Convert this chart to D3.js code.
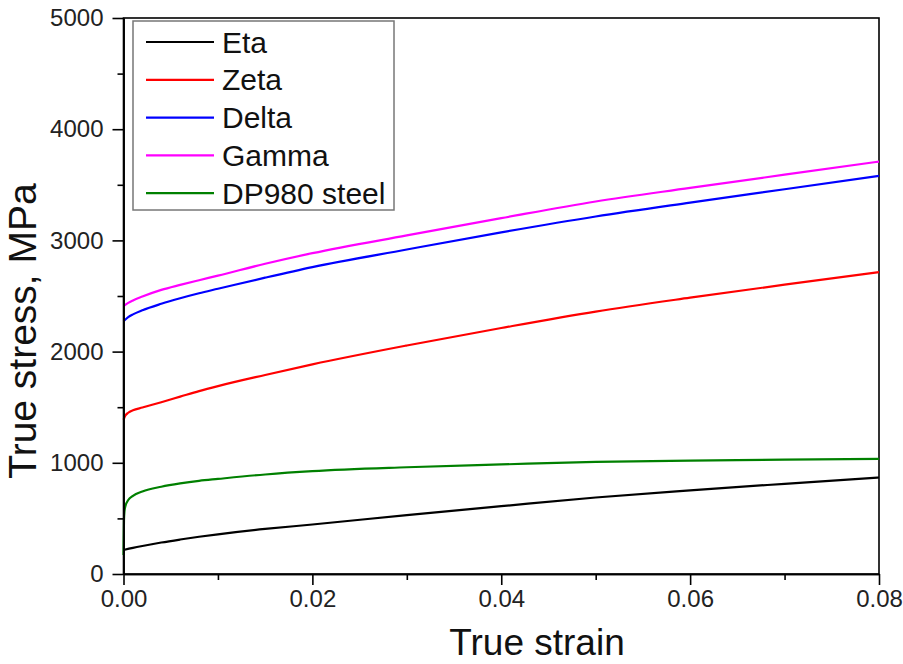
<!DOCTYPE html>
<html>
<head>
<meta charset="utf-8">
<script src="https://cdn.jsdelivr.net/npm/d3@7"></script>
<style>
  body { margin: 0; background: #fff; }
  svg { display: block; font-family: "Liberation Sans", Arial, sans-serif; }
</style>
</head>
<body>
<svg id="chart"></svg>
<script>
const width = 903;
const height = 664;

// strain values (x) and true stress (MPa) for each material
const etaStrain   = [0, 0.001, 0.002, 0.004, 0.006, 0.008, 0.01, 0.015, 0.02, 0.03, 0.04, 0.05, 0.06, 0.07, 0.08];
const etaStress   = [216, 235, 252, 283, 310, 335, 357, 405, 445, 530, 610, 688, 752, 811, 868];

const zetaStrain  = [0, 0.0002, 0.0005, 0.001, 0.002, 0.004, 0.006, 0.008, 0.01, 0.015, 0.02, 0.03, 0.04, 0.05, 0.06, 0.07, 0.08];
const zetaStress  = [1387, 1425, 1450, 1472, 1497, 1545, 1595, 1645, 1690, 1790, 1885, 2055, 2212, 2360, 2485, 2602, 2714];

const deltaStrain = [0, 0.0005, 0.001, 0.002, 0.004, 0.006, 0.008, 0.01, 0.015, 0.02, 0.03, 0.04, 0.05, 0.06, 0.07, 0.08];
const deltaStress = [2273, 2310, 2335, 2372, 2430, 2480, 2525, 2565, 2665, 2760, 2918, 3072, 3215, 3340, 3460, 3580];

const gammaStrain = [0, 0.0005, 0.001, 0.002, 0.004, 0.006, 0.008, 0.01, 0.015, 0.02, 0.03, 0.04, 0.05, 0.06, 0.07, 0.08];
const gammaStress = [2408, 2438, 2460, 2495, 2555, 2600, 2642, 2683, 2790, 2885, 3045, 3200, 3350, 3472, 3591, 3709];

const dpStrain    = [0, 0.00005, 0.0001, 0.0002, 0.0005, 0.001, 0.002, 0.004, 0.006, 0.008, 0.01, 0.015, 0.02, 0.03, 0.04, 0.05, 0.06, 0.07, 0.08];
const dpStress    = [171, 480, 560, 610, 665, 703, 742, 785, 815, 838, 855, 895, 925, 960, 985, 1008, 1020, 1029, 1036];

const seriesNames  = ["Eta", "Zeta", "Delta", "Gamma", "DP980 steel"];
const seriesColors = ["#000000", "#ff0000", "#0000ff", "#ff00ff", "#008000"];

const xTicks = [0, 0.02, 0.04, 0.06, 0.08];
const xMinor = [0.01, 0.03, 0.05, 0.07];
const yTicks = [0, 1000, 2000, 3000, 4000, 5000];
const yMinor = [500, 1500, 2500, 3500, 4500];

const series = [
  [etaStrain, etaStress],
  [zetaStrain, zetaStress],
  [deltaStrain, deltaStress],
  [gammaStrain, gammaStress],
  [dpStrain, dpStress]
].map(([xs, ys], i) => ({
  name: seriesNames[i],
  color: seriesColors[i],
  points: xs.map((x, j) => ({ x: x, y: ys[j] }))
}));

const margin = { left: 123.5, right: 24, top: 18, bottom: 90 };

const svg = d3.select("#chart").attr("width", width).attr("height", height);

const x = d3.scaleLinear().domain([0, 0.08]).range([margin.left, width - margin.right]);
const y = d3.scaleLinear().domain([0, 5000]).range([height - margin.bottom, margin.top]);

// plot frame
svg.append("rect")
  .attr("x", x(0)).attr("y", y(5000))
  .attr("width", x(0.08) - x(0)).attr("height", y(0) - y(5000))
  .attr("fill", "none").attr("stroke", "#000").attr("stroke-width", 1.6);

// curves
const line = d3.line().x(d => x(d.x)).y(d => y(d.y)).curve(d3.curveMonotoneX);

svg.append("g")
  .selectAll("path")
  .data(series)
  .enter().append("path")
    .attr("d", d => line(d.points))
    .attr("fill", "none")
    .attr("stroke", d => d.color)
    .attr("stroke-width", 2.2);

// axes
svg.append("g")
  .attr("transform", `translate(0,${y(0)})`)
  .call(d3.axisBottom(x).tickValues(xTicks).tickFormat(d3.format(".2f")).tickSize(11).tickSizeOuter(0).tickPadding(5));

svg.append("g")
  .attr("transform", `translate(0,${y(0)})`)
  .call(d3.axisBottom(x).tickValues(xMinor).tickFormat("").tickSize(6).tickSizeOuter(0));

svg.append("g")
  .attr("transform", `translate(${x(0)},0)`)
  .call(d3.axisLeft(y).tickValues(yTicks).tickFormat(d3.format("d")).tickSize(11).tickSizeOuter(0).tickPadding(9));

svg.append("g")
  .attr("transform", `translate(${x(0)},0)`)
  .call(d3.axisLeft(y).tickValues(yMinor).tickFormat("").tickSize(6).tickSizeOuter(0));

svg.selectAll(".domain").attr("stroke", "#000").attr("stroke-width", 1.6);
svg.selectAll(".tick line").attr("stroke", "#000").attr("stroke-width", 1.6);
svg.selectAll(".tick text")
  .attr("fill", "#222")
  .style("font-size", "24px")
  .style("font-family", "'Liberation Sans', Arial, sans-serif");

// axis titles
svg.append("text")
  .attr("x", 537).attr("y", 655)
  .attr("text-anchor", "middle")
  .style("font-size", "37px")
  .attr("fill", "#111")
  .text("True strain");

svg.append("text")
  .attr("transform", "translate(36,331) rotate(-90)")
  .attr("text-anchor", "middle")
  .style("font-size", "39px")
  .attr("fill", "#111")
  .text("True stress, MPa");

// legend
const legend = svg.append("g");
legend.append("rect")
  .attr("x", 133).attr("y", 21)
  .attr("width", 261).attr("height", 189)
  .attr("fill", "#fff").attr("stroke", "#777").attr("stroke-width", 1.5);

const legendRows = legend.selectAll("g.row")
  .data(series)
  .enter().append("g")
    .attr("class", "row")
    .attr("transform", (d, i) => `translate(0,${42 + i * 37.8})`);

legendRows.append("line")
  .attr("x1", 146).attr("x2", 214)
  .attr("stroke", d => d.color).attr("stroke-width", 2.2);

legendRows.append("text")
  .attr("x", 222).attr("y", 10.5)
  .style("font-size", "30px")
  .attr("fill", "#111")
  .text(d => d.name);
</script>
</body>
</html>
